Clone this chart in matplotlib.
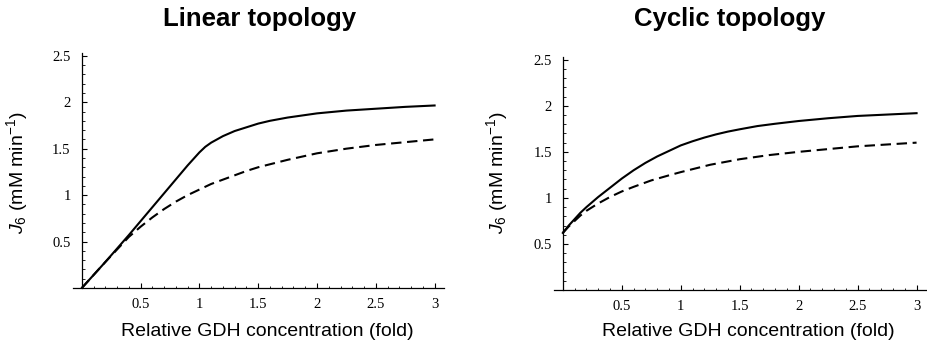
import matplotlib
matplotlib.use("Agg")
import matplotlib.pyplot as plt
from matplotlib.ticker import MultipleLocator, FixedLocator, FixedFormatter

# values
# Linear topology
lin_x_solid = [0, 0.2, 0.4, 0.6, 0.8, 0.9, 0.95, 1.0, 1.05, 1.1, 1.15, 1.2, 1.3, 1.4, 1.5,
               1.6, 1.75, 2.0, 2.25, 2.5, 2.75, 3.0]
lin_y_solid = [0, 0.28, 0.57, 0.87, 1.17, 1.32, 1.39, 1.46, 1.52, 1.565, 1.60, 1.635, 1.69,
               1.73, 1.77, 1.80, 1.835, 1.88, 1.91, 1.93, 1.95, 1.965]
lin_x_dash = [0, 0.2, 0.4, 0.5, 0.6, 0.7, 0.8, 0.9, 1.0, 1.1, 1.25, 1.4, 1.5, 1.75, 2.0,
              2.25, 2.5, 2.75, 3.0]
lin_y_dash = [0, 0.28, 0.55, 0.66, 0.76, 0.85, 0.93, 1.00, 1.06, 1.12, 1.19, 1.26, 1.30,
              1.38, 1.45, 1.50, 1.54, 1.57, 1.60]

# Cyclic topology
cyc_x_solid = [0, 0.05, 0.1, 0.15, 0.2, 0.25, 0.3, 0.4, 0.5, 0.6, 0.7, 0.8, 0.9, 1.0, 1.1,
               1.2, 1.3, 1.4, 1.5, 1.65, 1.8, 2.0, 2.25, 2.5, 2.75, 3.0]
cyc_y_solid = [0.62, 0.70, 0.77, 0.84, 0.90, 0.955, 1.01, 1.11, 1.21, 1.30, 1.38, 1.45, 1.51,
               1.57, 1.615, 1.655, 1.69, 1.72, 1.745, 1.78, 1.805, 1.835, 1.865, 1.89, 1.905,
               1.92]
cyc_x_dash = [0, 0.05, 0.1, 0.15, 0.2, 0.3, 0.4, 0.5, 0.6, 0.75, 0.9, 1.0, 1.25, 1.5, 1.75,
              2.0, 2.25, 2.5, 2.75, 3.0]
cyc_y_dash = [0.62, 0.69, 0.75, 0.81, 0.86, 0.94, 1.01, 1.07, 1.12, 1.19, 1.245, 1.28, 1.36,
              1.42, 1.465, 1.50, 1.53, 1.56, 1.58, 1.60]

x_ticks = [0.5, 1, 1.5, 2, 2.5, 3]
x_labels = ["0.5", "1", "1.5", "2", "2.5", "3"]
y_ticks = [0.5, 1, 1.5, 2, 2.5]
y_labels = ["0.5", "1", "1.5", "2", "2.5"]

titles = ["Linear topology", "Cyclic topology"]
xlabel = "Relative GDH concentration (fold)"
ylabel = r"$\mathit{J}_{6}$ (mM min$^{-1}$)"

plt.rcParams["mathtext.fontset"] = "custom"
plt.rcParams["mathtext.rm"] = "Liberation Sans"
plt.rcParams["mathtext.it"] = "Liberation Sans:italic"

W, H = 928, 347
fig = plt.figure(figsize=(W / 100, H / 100), dpi=100)


def px_axes(left, right, bottom, top):
    return fig.add_axes([left / W, 1 - bottom / H, (right - left) / W, (bottom - top) / H])


ax1 = px_axes(73, 444, 288, 53)
ax2 = px_axes(554, 926, 290, 57)

ax1.plot(lin_x_solid, lin_y_solid, color="black", lw=1.5)
ax1.plot(lin_x_dash, lin_y_dash, color="black", lw=1.5, linestyle=(0, (5, 2.7)))
ax2.plot(cyc_x_solid, cyc_y_solid, color="black", lw=1.5)
ax2.plot(cyc_x_dash, cyc_y_dash, color="black", lw=1.5, linestyle=(0, (5, 2.7)))

for ax in (ax1, ax2):
    ax.set_xlim(-0.075, 3.08)
    ax.set_ylim(0, 2.53)
    ax.spines["top"].set_visible(False)
    ax.spines["right"].set_visible(False)
    ax.spines["left"].set_position(("data", 0))
    for s in ("left", "bottom"):
        ax.spines[s].set_linewidth(0.9)
    ax.xaxis.set_major_locator(FixedLocator(x_ticks))
    ax.xaxis.set_major_formatter(FixedFormatter(x_labels))
    ax.yaxis.set_major_locator(FixedLocator(y_ticks))
    ax.yaxis.set_major_formatter(FixedFormatter(y_labels))
    ax.xaxis.set_minor_locator(MultipleLocator(0.1))
    ax.yaxis.set_minor_locator(MultipleLocator(0.1))
    ax.tick_params(which="major", direction="in", length=3.6, width=0.8, labelsize=10.5)
    ax.tick_params(which="minor", direction="in", length=1.8, width=0.6)
    ax.tick_params(axis="y", which="major", pad=8)
    ax.tick_params(axis="x", which="major", pad=7)
    for lab in ax.get_xticklabels() + ax.get_yticklabels():
        lab.set_fontfamily("Liberation Serif")

fig.text(260 / W, 1 - 19 / H, titles[0], ha="center", va="center", fontsize=18.5,
         fontweight="bold", family="Liberation Sans")
fig.text(730 / W, 1 - 19 / H, titles[1], ha="center", va="center", fontsize=18.5,
         fontweight="bold", family="Liberation Sans")

fig.text(267 / W, 1 - 332 / H, xlabel, ha="center", va="center", fontsize=14,
         family="Liberation Sans")
fig.text(748 / W, 1 - 332 / H, xlabel, ha="center", va="center", fontsize=14,
         family="Liberation Sans")

fig.text(17 / W, 1 - 173 / H, ylabel, ha="center", va="center", fontsize=14,
         rotation=90, family="Liberation Sans")
fig.text(497 / W, 1 - 173 / H, ylabel, ha="center", va="center", fontsize=14,
         rotation=90, family="Liberation Sans")

fig.savefig("out.png", dpi=100)
